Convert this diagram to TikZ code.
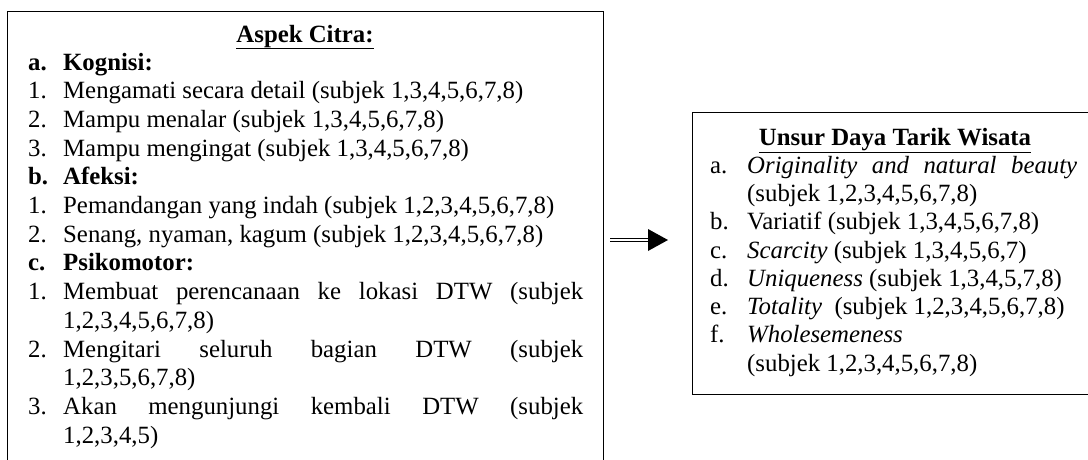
\documentclass[tikz,border=0pt]{standalone}
\usepackage{fontspec}
\setmainfont{Liberation Serif}
\begin{document}
\begin{tikzpicture}[x=1pt,y=-1pt,
  boxframe/.style={draw=black, line width=1.3pt, inner sep=0pt, anchor=north west},
  lt/.style={anchor=base west, inner sep=0pt, font=\fontsize{24.8}{28}\selectfont},
  rt/.style={anchor=base west, inner sep=0pt, font=\fontsize{24.8}{28}\selectfont},
  ltitle/.style={anchor=base, inner sep=0pt, font=\fontsize{24.8}{28}\selectfont\bfseries},
  rtitle/.style={anchor=base, inner sep=0pt, font=\fontsize{24.8}{28}\selectfont\bfseries},
  dblarrow/.style={draw=black, line width=1.4pt, double=white, double distance=1.6pt}
]
\useasboundingbox (0,0) rectangle (1088,459);
\clip (0,0) rectangle (1088,459);
\fill[white] (0,0) rectangle (1088,459);

% boxes
\node[boxframe, minimum width=596pt, minimum height=480pt] (L) at (7,11) {};
\node[boxframe, minimum width=430pt, minimum height=282pt] (R) at (692,112) {};

% left box text
\node[ltitle] (lt0) at (305,42) {\underline{Aspek Citra:}};
\node[lt] (la1) at (28,70) {\textbf{a.}};
\node[lt] (lx1) at (63,70) {\textbf{Kognisi:}};
\node[lt] (la2) at (28,98.7) {1.};
\node[lt] (lx2) at (63,98.7) {Mengamati secara detail (subjek 1,3,4,5,6,7,8)};
\node[lt] (la3) at (28,127.4) {2.};
\node[lt] (lx3) at (63,127.4) {Mampu menalar (subjek 1,3,4,5,6,7,8)};
\node[lt] (la4) at (28,156.1) {3.};
\node[lt] (lx4) at (63,156.1) {Mampu mengingat (subjek 1,3,4,5,6,7,8)};
\node[lt] (la5) at (28,184.8) {\textbf{b.}};
\node[lt] (lx5) at (63,184.8) {\textbf{Afeksi:}};
\node[lt] (la6) at (28,213.5) {1.};
\node[lt] (lx6) at (63,213.5) {Pemandangan yang indah (subjek 1,2,3,4,5,6,7,8)};
\node[lt] (la7) at (28,242.2) {2.};
\node[lt] (lx7) at (63,242.2) {Senang, nyaman, kagum (subjek 1,2,3,4,5,6,7,8)};
\node[lt] (la8) at (28,270.9) {\textbf{c.}};
\node[lt] (lx8) at (63,270.9) {\textbf{Psikomotor:}};
\node[lt] (la9) at (28,299.6) {1.};
\node[lt] (lx9) at (63,299.6) {\makebox[520pt][s]{Membuat perencanaan ke lokasi DTW (subjek}};
\node[lt] (lx10) at (63,328.3) {1,2,3,4,5,6,7,8)};
\node[lt] (la11) at (28,357) {2.};
\node[lt] (lx11) at (63,357) {\makebox[520pt][s]{Mengitari seluruh bagian DTW (subjek}};
\node[lt] (lx12) at (63,385.7) {1,2,3,5,6,7,8)};
\node[lt] (la13) at (28,414.4) {3.};
\node[lt] (lx13) at (63,414.4) {\makebox[520pt][s]{Akan mengunjungi kembali DTW (subjek}};
\node[lt] (lx14) at (63,443.1) {1,2,3,4,5)};

% right box text
\node[rtitle] (rt0) at (895,145) {\underline{Unsur Daya Tarik Wisata}};
\node[rt] (ra1) at (710,173.25) {a.};
\node[rt] (rx1) at (747,173.25) {\makebox[330pt][s]{\itshape Originality and natural beauty}};
\node[rt] (rx2) at (747,201.5) {(subjek 1,2,3,4,5,6,7,8)};
\node[rt] (ra3) at (710,229.75) {b.};
\node[rt] (rx3) at (747,229.75) {Variatif (subjek 1,3,4,5,6,7,8)};
\node[rt] (ra4) at (710,258) {c.};
\node[rt] (rx4) at (747,258) {\textit{Scarcity} (subjek 1,3,4,5,6,7)};
\node[rt] (ra5) at (710,286.25) {d.};
\node[rt] (rx5) at (747,286.25) {\textit{Uniqueness} (subjek 1,3,4,5,7,8)};
\node[rt] (ra6) at (710,314.5) {e.};
\node[rt] (rx6) at (747,314.5) {\textit{Totality}\ \ (subjek 1,2,3,4,5,6,7,8)};
\node[rt] (ra7) at (710,342.75) {f.};
\node[rt] (rx7) at (747,342.75) {\textit{Wholesemeness}};
\node[rt] (rx8) at (747,371) {(subjek 1,2,3,4,5,6,7,8)};

% arrow
\coordinate (as) at (610,240);
\coordinate (am) at (648,240);
\coordinate (ae) at (668,240);
\draw[dblarrow] (as) -- (am);
\fill[black] ([yshift=11pt]am) -- (ae) -- ([yshift=-11pt]am) -- cycle;
\end{tikzpicture}
\end{document}
